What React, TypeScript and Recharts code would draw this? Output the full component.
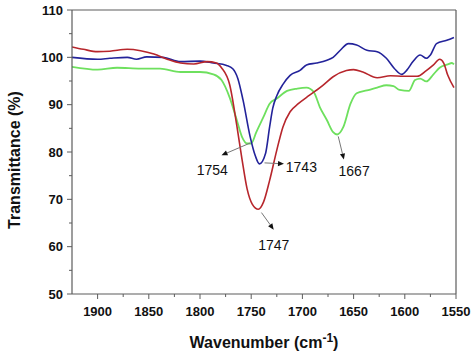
import React from "react";
import { LineChart, Line, XAxis, YAxis, ReferenceLine, ReferenceDot } from "recharts";

const blueWn = [1925,1900,1888,1871,1862,1852,1836,1819,1800,1787,1774,1768,1763,1758,1751,1746,1742,1736,1732,1729,1725,1719,1712,1702,1696,1686,1676,1670,1663,1655,1647,1637,1627,1618,1610,1603,1598,1592,1585,1579,1575,1569,1559,1552];
const blueVals = [100.0,99.6,99.8,100.0,99.6,100.1,100.0,99.1,99.2,98.8,98.3,97.6,95.5,91.0,83.2,79.2,77.5,79.7,85.3,89.2,91.9,94.3,96.2,97.3,98.4,98.8,99.4,100.0,101.5,102.9,102.6,101.5,101.2,99.8,97.6,96.4,97.3,99.1,100.5,99.8,100.5,102.9,103.6,104.2];

const redWn = [1925,1914,1900,1888,1871,1858,1845,1832,1819,1806,1793,1784,1779,1771,1764,1759,1754,1749,1743,1738,1732,1725,1719,1712,1704,1693,1680,1670,1657,1650,1641,1627,1614,1601,1588,1579,1572,1566,1562,1558,1552];
const redVals = [102.2,101.7,101.2,101.3,101.7,101.4,100.7,99.6,98.8,98.6,99.1,98.8,97.8,94.2,85.5,78.5,72.2,69.0,67.9,69.4,74.0,80.4,85.3,88.5,90.2,92.0,94.1,95.9,97.2,97.4,96.9,95.7,96.1,96.0,96.0,97.2,98.4,99.6,98.8,96.2,93.6];

const greenWn = [1925,1900,1881,1858,1839,1819,1800,1787,1779,1771,1764,1759,1754,1750,1745,1738,1732,1725,1715,1705,1696,1689,1683,1676,1670,1666,1660,1653,1647,1637,1627,1618,1611,1605,1596,1590,1585,1579,1572,1566,1558,1554,1552];
const greenVals = [98.0,97.4,97.8,97.6,97.6,96.9,96.9,96.4,95.2,91.5,86.7,83.2,81.8,81.8,84.2,87.4,90.2,91.3,92.9,93.4,93.6,92.7,89.5,86.7,84.2,83.7,85.3,90.2,92.4,93.0,93.6,94.1,93.9,93.1,92.9,95.2,95.5,94.9,96.4,97.8,98.5,98.8,98.5];

const xMajorTicks = [1900,1850,1800,1750,1700,1650,1600,1550];
const xAllTicks = [1900,1875,1850,1825,1800,1775,1750,1725,1700,1675,1650,1625,1600,1575,1550];
const yMajorTicks = [50,60,70,80,90,100,110];
const yAllTicks = [50,55,60,65,70,75,80,85,90,95,100,105,110];

// peak annotations: arrow start (on curve) -> arrow end, then label
const peakLabels = ["1754", "1743", "1747", "1667"];
const arrowStartWn = [1751, 1737, 1740, 1665];
const arrowStartVal = [81.9, 77.7, 67.2, 83.3];
const arrowEndWn = [1779, 1718, 1728, 1659.5];
const arrowEndVal = [79.3, 77.5, 63.6, 78.4];
const labelWn = [1788, 1701, 1728, 1649.5];
const labelVal = [76.2, 76.9, 60.3, 75.9];

const toPts = (wn: number[], v: number[]) => wn.map((w, i) => ({ w, v: v[i] }));
const blueData = toPts(blueWn, blueVals);
const redData = toPts(redWn, redVals);
const greenData = toPts(greenWn, greenVals);

const AXIS = "#5c5c5c";
const FONT = "Arial, 'Liberation Sans', sans-serif";

const XTick = (props: any) => {
  const { x, y, payload } = props;
  const major = xMajorTicks.includes(payload.value);
  return (
    <g>
      <line x1={x} x2={x} y1={y} y2={y + (major ? 5 : 3)} stroke={AXIS} strokeWidth={1} />
      {major && (
        <text x={x} y={y + 22} textAnchor="middle" fontFamily={FONT} fontWeight="bold" fontSize={13} fill="#111">
          {payload.value}
        </text>
      )}
    </g>
  );
};

const YTick = (props: any) => {
  const { x, y, payload } = props;
  const major = yMajorTicks.includes(payload.value);
  return (
    <g>
      <line x1={x} x2={x - (major ? 5 : 3)} y1={y} y2={y} stroke={AXIS} strokeWidth={1} />
      {major && (
        <text x={x - 9} y={y + 4.5} textAnchor="end" fontFamily={FONT} fontWeight="bold" fontSize={13} fill="#111">
          {payload.value}
        </text>
      )}
    </g>
  );
};

const XTitle = (props: any) => {
  const vb = props.viewBox || { x: 72, y: 294, width: 384, height: 59 };
  const cx = vb.x + vb.width / 2;
  return (
    <text x={cx} y={vb.y + 54} textAnchor="middle" fontFamily={FONT} fontWeight="bold" fontSize={16} fill="#111">
      Wavenumber (cm
      <tspan dy={-6} fontSize={12}>-1</tspan>
      <tspan dy={6}>)</tspan>
    </text>
  );
};

const YTitle = (props: any) => {
  const vb = props.viewBox || { x: 0, y: 10, width: 72, height: 284 };
  const cx = 20;
  const cy = vb.y + vb.height / 2 + 8;
  return (
    <text x={cx} y={cy} transform={`rotate(-90, ${cx}, ${cy})`} textAnchor="middle" fontFamily={FONT} fontWeight="bold" fontSize={16} fill="#111">
      Transmittance (%)
    </text>
  );
};

const Arrow = (props: any) => {
  const { x1, y1, x2, y2 } = props;
  if ([x1, y1, x2, y2].some((n) => n === undefined || isNaN(n))) return null;
  const ang = Math.atan2(y2 - y1, x2 - x1);
  const L = 6;
  const W = 2.6;
  const bx = x2 - L * Math.cos(ang);
  const by = y2 - L * Math.sin(ang);
  const px = -Math.sin(ang) * W;
  const py = Math.cos(ang) * W;
  return (
    <g>
      <line x1={x1} y1={y1} x2={bx} y2={by} stroke="#777" strokeWidth={1} />
      <polygon points={`${x2},${y2} ${bx + px},${by + py} ${bx - px},${by - py}`} fill="#111" />
    </g>
  );
};

export default function App() {
  return (
    <div style={{ position: "absolute", left: 0, top: 0, width: 474, height: 353, background: "#fff" }}>
      <LineChart width={474} height={353} margin={{ top: 10, right: 18, bottom: 0, left: 0 }}>
        <XAxis
          type="number"
          dataKey="w"
          domain={[1550, 1925]}
          reversed
          allowDataOverflow
          ticks={xAllTicks}
          interval={0}
          tick={<XTick />}
          tickLine={false}
          tickSize={0}
          tickMargin={0}
          height={59}
          axisLine={{ stroke: AXIS, strokeWidth: 1.2 }}
          label={<XTitle />}
        />
        <YAxis
          type="number"
          domain={[50, 110]}
          allowDataOverflow
          ticks={yAllTicks}
          interval={0}
          tick={<YTick />}
          tickLine={false}
          tickSize={0}
          tickMargin={0}
          width={72}
          axisLine={{ stroke: AXIS, strokeWidth: 1.2 }}
          label={<YTitle />}
        />
        <ReferenceLine y={110} stroke={AXIS} strokeWidth={1.2} />
        <ReferenceLine x={1550} stroke={AXIS} strokeWidth={1.2} />
        <Line data={greenData} dataKey="v" type="monotone" stroke="#6ee05e" strokeWidth={1.8} dot={false} isAnimationActive={false} />
        <Line data={blueData} dataKey="v" type="monotone" stroke="#23239a" strokeWidth={1.6} dot={false} isAnimationActive={false} />
        <Line data={redData} dataKey="v" type="monotone" stroke="#b7262c" strokeWidth={1.6} dot={false} isAnimationActive={false} />
        {peakLabels.map((lab, i) => (
          <ReferenceLine
            key={"a" + lab}
            segment={[
              { x: arrowStartWn[i], y: arrowStartVal[i] },
              { x: arrowEndWn[i], y: arrowEndVal[i] },
            ]}
            shape={<Arrow />}
          />
        ))}
        {peakLabels.map((lab, i) => (
          <ReferenceDot
            key={"t" + lab}
            x={labelWn[i]}
            y={labelVal[i]}
            r={1}
            shape={(p: any) => (
              <text x={p.cx} y={p.cy + 5} textAnchor="middle" fontFamily={FONT} fontSize={14} fill="#111">
                {lab}
              </text>
            )}
          />
        ))}
      </LineChart>
    </div>
  );
}
